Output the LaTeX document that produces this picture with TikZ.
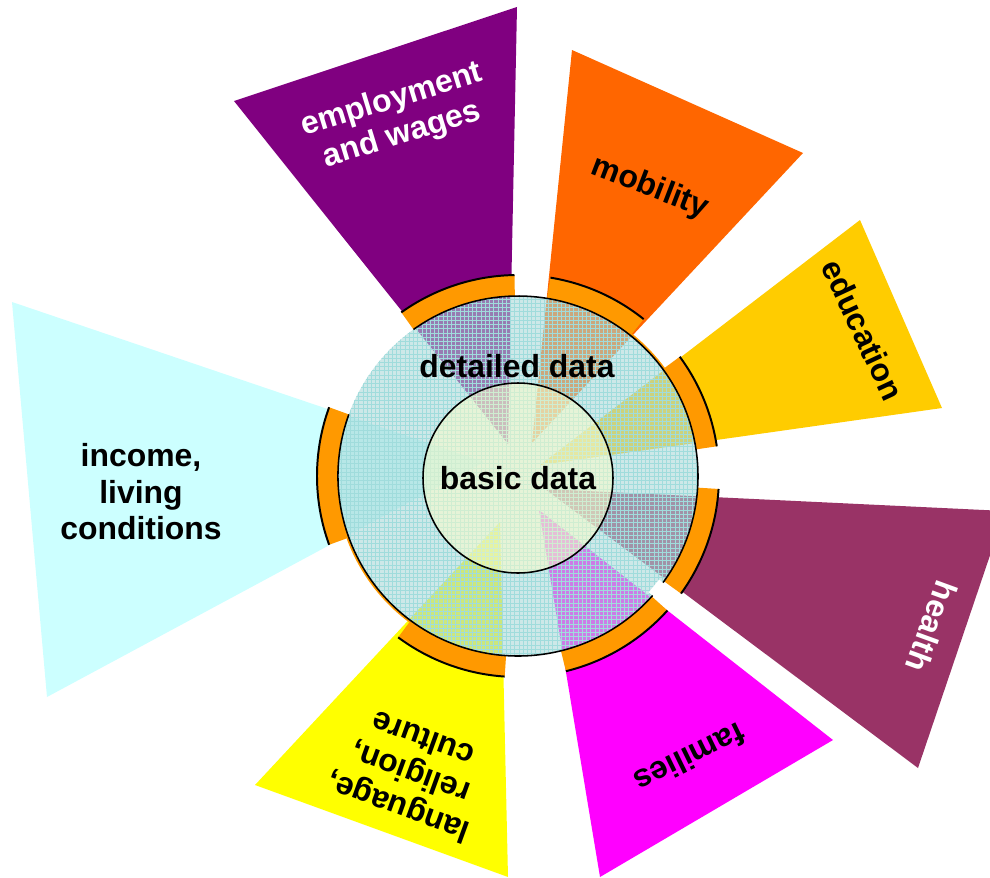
\documentclass[tikz,border=0pt]{standalone}
\usepackage{fontspec}
\setmainfont{Liberation Sans}
\usetikzlibrary{patterns}
\definecolor{cEmp}{HTML}{800080}
\definecolor{cMob}{HTML}{FF6600}
\definecolor{cEdu}{HTML}{FFCC00}
\definecolor{cHea}{HTML}{993366}
\definecolor{cFam}{HTML}{FF00FF}
\definecolor{cLan}{HTML}{FFFF00}
\definecolor{cInc}{HTML}{CCFFFF}
\definecolor{ringorange}{HTML}{FF9900}
\definecolor{detfill}{RGB}{168,215,215}
\definecolor{gridcol}{RGB}{160,220,220}
\definecolor{basfill}{RGB}{255,255,200}
\newcommand\ringseg[2]{%
  \fill[ringorange] (#1:180) arc[start angle=#1, end angle=#2, radius=180]
    -- (#2:201) arc[start angle=#2, end angle=#1, radius=201] -- cycle;
  \draw[ringedge] (#1:201) arc[start angle=#1, end angle=#2, radius=201];}
\begin{document}
\begin{tikzpicture}[x=0.025cm,y=0.025cm,
  lbl/.style={font=\fontsize{22.7}{26}\selectfont\bfseries, align=center, inner sep=0pt},
  ringedge/.style={draw=black, line width=1.4pt},
  circline/.style={draw=black, line width=1.1pt},
]
\useasboundingbox (-518,-401) rectangle (472,476);
% wedges
\fill[cEmp] (-284,375) -- (-1,469) -- (-10,32) -- cycle;
\fill[cMob] (54,426) -- (285,323) -- (14,33) -- cycle;
\fill[cEdu] (342,256) -- (424,68) -- (22,11) -- cycle;
\fill[cHea] (487,-35) -- (400,-292) -- (27,-13) -- cycle;
\fill[cFam] (315,-264) -- (82,-401) -- (21,-34) -- cycle;
\fill[cLan] (-263,-309) -- (-10,-401) -- (-18,-46) -- cycle;
\fill[cInc] (-506,174) -- (-471,-221) -- (-34,14) -- cycle;
% orange ring segments
\ringseg{91}{125.5}
\ringseg{51.3}{80.7}
\ringseg{8.5}{36.4}
\ringseg{-35.8}{-3.7}
\ringseg{-76.2}{-42}
\ringseg{233.4}{266.2}
\ringseg{160}{200}
% detailed data disc
\fill[detfill, fill opacity=0.58] (0,0) circle[radius=180];
\fill[pattern=grid, pattern color=gridcol, fill opacity=0.35] (0,0) circle[radius=180];
% basic data disc
\fill[basfill, fill opacity=0.5] (0,-2) circle[radius=95];
% white gap between health and families
\fill[white] (-41.6:175) -- (-41.6:212) -- (-36.3:212) -- (-36.3:175) -- cycle;
% thin orange slivers
\draw[ringorange, line width=1.6pt] (200:181.3) arc[start angle=200, end angle=233.4, radius=181.3];
\draw[ringorange, line width=1.6pt] (36.4:181.3) arc[start angle=36.4, end angle=51.3, radius=181.3];
% outlines
\draw[circline] (160:180) arc[start angle=160, end angle=318.4, radius=180];
\draw[circline] (-36.3:180) arc[start angle=-36.3, end angle=125.5, radius=180];
\draw[circline] (0,-2) circle[radius=95];
% labels
\node[lbl, text=white, rotate=17] (emp) at (-121,358) {employment\\and wages};
\node[lbl, rotate=-21] (mob) at (132,288) {mobility};
\node[lbl, rotate=-65] (edu) at (345,146) {education};
\node[lbl, text=white, rotate=-110] (hea) at (414,-151) {health};
\node[lbl, rotate=-154] (fam) at (172,-282) {families};
\node[lbl, rotate=160] (lan) at (-108,-298) {language,\\religion,\\culture};
\node[lbl] (inc) at (-377,-16) {income,\\living\\conditions};
\node[lbl] (det) at (-1,110) {detailed data};
\node[lbl] (bas) at (0,-2) {basic data};
\end{tikzpicture}
\end{document}
